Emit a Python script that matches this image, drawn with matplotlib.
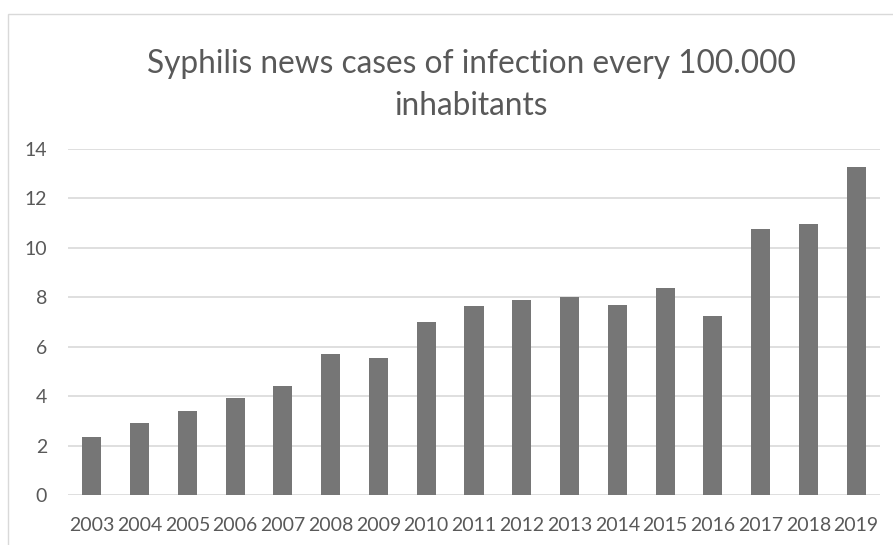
import numpy as np
import matplotlib
matplotlib.use("Agg")
import matplotlib.pyplot as plt
from matplotlib.patches import Rectangle

years = [str(y) for y in range(2003, 2020)]
cases = [2.33, 2.93, 3.40, 3.92, 4.40, 5.69, 5.56, 7.00, 7.65,
         7.89, 8.01, 7.70, 8.38, 7.26, 10.75, 10.98, 13.29]
yticks = [0, 2, 4, 6, 8, 10, 12, 14]

bar_color = "#767676"
text_color = "#595959"
grid_color = "#d9d9d9"

plt.rcParams["font.family"] = ["Lato", "DejaVu Sans"]

W, H = 893, 545
fig = plt.figure(figsize=(W/100, H/100), dpi=100)

# chart frame, open on the right and bottom edges
frame = Rectangle((8/W, -0.1), 1.2, (H - 14)/H + 0.1, transform=fig.transFigure,
                  fill=False, edgecolor="#d9d9d9", linewidth=1.0, clip_on=False)
fig.patches.append(frame)

ax = fig.add_axes([68/W, (H - 495)/H, (880 - 68)/W, (495 - 149)/H])
x = np.arange(len(years))
ax.bar(x, cases, width=0.4, color=bar_color, zorder=3)

ax.set_xlim(-0.5, len(years) - 0.5)
ax.set_ylim(0, 14)
ax.set_yticks(yticks)
ax.set_yticklabels([str(t) for t in yticks])
ax.set_xticks(x)
ax.set_xticklabels(years)
ax.yaxis.grid(True, color=grid_color, linewidth=1.2, zorder=0)
for s in ax.spines.values():
    s.set_visible(False)
ax.tick_params(axis="both", length=0, labelsize=14, labelcolor=text_color)
ax.tick_params(axis="y", pad=15)
ax.tick_params(axis="x", pad=16)

fig.text(471/W, 1 - 64/H, "Syphilis news cases of infection every 100.000",
         ha="center", va="center", fontsize=22.8, color=text_color)
fig.text(471/W, 1 - 106/H, "inhabitants",
         ha="center", va="center", fontsize=22.8, color=text_color)

fig.savefig("out.png", dpi=100)
